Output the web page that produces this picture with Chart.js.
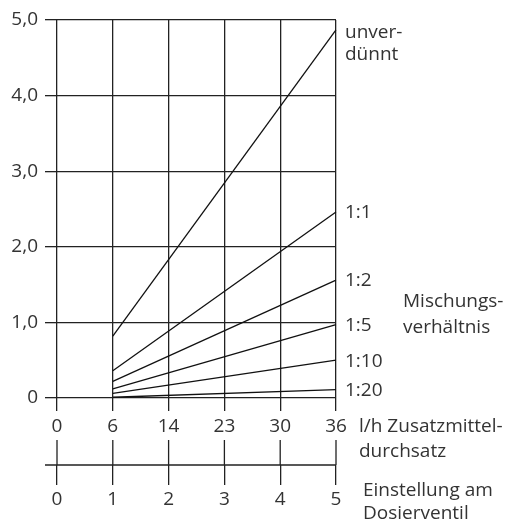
<!DOCTYPE html>
<html lang="de">
<head>
  <meta charset="utf-8" />
  <title>Mischungsverhältnis</title>
  <script src="https://cdn.jsdelivr.net/npm/chart.js@4.4.1/dist/chart.umd.min.js"></script>
  <style>
    html, body { margin: 0; padding: 0; background: #fff; }
    #wrap { width: 508px; height: 520px; }
  </style>
</head>
<body>
  <div id="wrap"><canvas id="myChart" width="508" height="520"></canvas></div>
  <script>
    // Zusatzmitteldurchsatz l/h (obere Achse) und Einstellung am Dosierventil (untere Achse)
    const flowLabels = ['0', '6', '14', '23', '30', '36'];
    const settingLabels = ['0', '1', '2', '3', '4', '5'];

    // Kurven: nur Anfangs- (6 l/h) und Endpunkt (36 l/h), gerade Linie dazwischen
    const unverduennt = [null, 0.82, null, null, null, 4.87];
    const ratio1to1 = [null, 0.36, null, null, null, 2.46];
    const ratio1to2 = [null, 0.22, null, null, null, 1.56];
    const ratio1to5 = [null, 0.12, null, null, null, 0.97];
    const ratio1to10 = [null, 0.06, null, null, null, 0.50];
    const ratio1to20 = [null, 0.01, null, null, null, 0.11];

    const seriesNames = [['unver-', 'dünnt'], ['1:1'], ['1:2'], ['1:5'], ['1:10'], ['1:20']];
    const seriesData = [unverduennt, ratio1to1, ratio1to2, ratio1to5, ratio1to10, ratio1to20];

    const FONT = "'Open Sans', 'Noto Sans', sans-serif";
    const TEXT = '#333';
    const LINE = '#222';

    const sideLabels = {
      id: 'sideLabels',
      afterDraw(chart) {
        const ctx = chart.ctx;
        const y = chart.scales.y;
        const x2 = chart.scales.x2;
        ctx.save();
        ctx.strokeStyle = LINE;
        ctx.lineWidth = 1.3;
        // untere Achse: Linie und Striche nach oben
        ctx.beginPath();
        ctx.moveTo(45, x2.top);
        ctx.lineTo(x2.right, x2.top);
        for (let i = 0; i < settingLabels.length; i++) {
          const px = x2.getPixelForTick(i);
          ctx.moveTo(px, x2.top - 25);
          ctx.lineTo(px, x2.top);
        }
        ctx.stroke();

        ctx.fillStyle = TEXT;
        ctx.font = '19px ' + FONT;
        ctx.textAlign = 'left';
        ctx.textBaseline = 'middle';
        // Kurvenbeschriftungen am Linienende
        const lx = chart.chartArea.right + 9;
        seriesData.forEach((d, i) => {
          const py = y.getPixelForValue(d[d.length - 1]);
          const lines = seriesNames[i];
          const off = lines.length > 1 ? 3 : 1;
          lines.forEach((t, j) => ctx.fillText(t, lx, py + off + j * 22));
        });
        ctx.fillText('Mischungs-', 403, 302);
        ctx.fillText('verhältnis', 403, 328);
        ctx.fillText('l/h Zusatzmittel-', 359, 427);
        ctx.fillText('durchsatz', 359, 452);
        ctx.fillText('Einstellung am', 363, 491);
        ctx.fillText('Dosierventil', 363, 514);
        ctx.restore();
      }
    };

    const ctx = document.getElementById('myChart').getContext('2d');
    const myChart = new Chart(ctx, {
      type: 'line',
      data: {
        labels: flowLabels,
        datasets: seriesData.map((d, i) => ({
          label: seriesNames[i].join(''),
          data: d,
          borderColor: '#111',
          borderWidth: 1.3,
          pointRadius: 0,
          spanGaps: true,
          tension: 0,
          fill: false
        }))
      },
      options: {
        responsive: false,
        animation: false,
        layout: { padding: { left: 0, right: 172, top: 20, bottom: 0 } },
        plugins: {
          legend: { display: false },
          tooltip: { enabled: false }
        },
        scales: {
          x: {
            type: 'category',
            position: 'bottom',
            offset: false,
            grid: { color: LINE, lineWidth: 1.3, tickLength: 13 },
            border: { display: false },
            ticks: { color: TEXT, font: { family: FONT, size: 19 }, padding: 4, maxRotation: 0, autoSkip: false },
            afterFit(scale) { scale.height = 67; }
          },
          x2: {
            type: 'category',
            position: 'bottom',
            labels: settingLabels,
            offset: false,
            grid: { drawOnChartArea: false, color: LINE, lineWidth: 1.3, tickLength: 20 },
            border: { display: false },
            ticks: { color: TEXT, font: { family: FONT, size: 19 }, padding: 3, maxRotation: 0, autoSkip: false },
            afterFit(scale) { scale.height = 55; }
          },
          y: {
            type: 'linear',
            min: 0,
            max: 5,
            grid: { color: LINE, lineWidth: 1.3, tickLength: 12 },
            border: { display: false },
            ticks: {
              stepSize: 1,
              color: TEXT,
              font: { family: FONT, size: 19 },
              padding: 7,
              callback: (v) => v === 0 ? '0' : v.toFixed(1).replace('.', ',')
            },
            afterFit(scale) { scale.width = 57; }
          }
        }
      },
      plugins: [sideLabels]
    });
  </script>
</body>
</html>
